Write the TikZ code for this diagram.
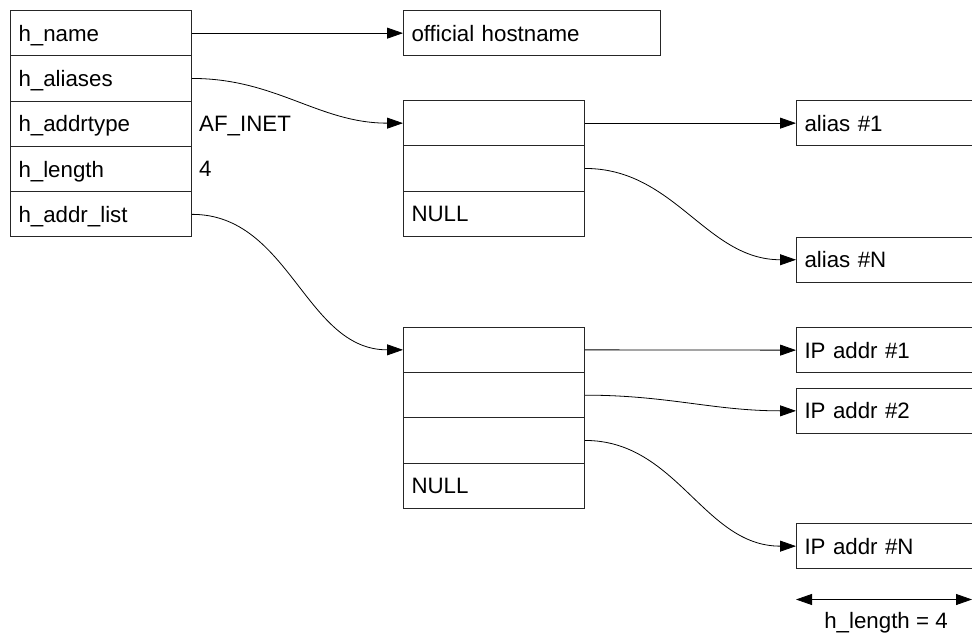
\documentclass[tikz,border=0pt]{standalone}
\usepackage{fontspec}
\setmainfont{Liberation Sans}
\usetikzlibrary{arrows.meta}
\begin{document}
\begin{tikzpicture}[x=1pt, y=-1pt,
  every node/.style={font=\fontsize{22.3}{26}\selectfont},
  box/.style={draw=black!85, line width=1pt, rectangle, anchor=north west,
    minimum height=45.3pt, inner xsep=8pt, inner ysep=0pt,
    text height=16pt, text depth=0pt, align=left},
  cell/.style={box, text width=165pt},
  wide/.style={box, text width=241pt},
  target/.style={box, text width=184pt},
  value/.style={anchor=west, inner sep=0pt, text height=16pt, text depth=0pt},
  tip/.style={Triangle[length=16pt, width=11pt]},
  link/.style={line width=0.8pt, -{Triangle[length=16pt, width=11pt]}},
  curve/.style={link, out=0, in=180}
]
\useasboundingbox (0,0) rectangle (972,639);
\clip (0,0) rectangle (972,639);

% struct hostent
\node[cell] (name)  at (10,10)    {h\_name};
\node[cell] (alias) at (10,55.3)  {h\_aliases};
\node[cell] (type)  at (10,100.6) {h\_addrtype};
\node[cell] (len)   at (10,145.9) {h\_length};
\node[cell] (addr)  at (10,191.2) {h\_addr\_list};
\node[value] (typeval) at (199,123.2) {AF\_INET};
\node[value] (lenval)  at (199,168.5) {4};

% official hostname
\node[wide] (host) at (403,10) {official hostname};

% alias pointer array
\node[cell] (al1) at (403,100)   {};
\node[cell] (al2) at (403,145.3) {};
\node[cell] (al3) at (403,190.6) {NULL};

% alias strings
\node[target] (aliasone) at (796,100)   {alias \#1};
\node[target] (aliasn)   at (796,236.6) {alias \#N};

% address pointer array
\node[cell] (ip1) at (403,326.7) {};
\node[cell] (ip2) at (403,372)   {};
\node[cell] (ip3) at (403,417.3) {};
\node[cell] (ip4) at (403,462.6) {NULL};

% address entries
\node[target] (ipone) at (796,327)   {IP addr \#1};
\node[target] (iptwo) at (796,387.7) {IP addr \#2};
\node[target] (ipn)   at (796,523)   {IP addr \#N};

% pointers
\draw[link] (name.east) -- (host.west);
\draw[curve] (alias.east) to (al1.west);
\draw[curve] (addr.east) to (ip1.west);
\draw[link] (al1.east) -- (aliasone.west);
\draw[curve] (al2.east) to (aliasn.west);
\draw[link] (ip1.east) -- (ipone.west);
\draw[curve] (ip2.east) to (iptwo.west);
\draw[curve] (ip3.east) to (ipn.west);

% length of one address
\coordinate (dimL) at (796,599.5);
\coordinate (dimR) at (972,599.5);
\draw[line width=0.8pt, {Triangle[length=16pt, width=11pt]}-{Triangle[length=16pt, width=11pt]}] (dimL) -- (dimR);
\node (dimlabel) at (886,623) {h\_length = 4};
\end{tikzpicture}
\end{document}
